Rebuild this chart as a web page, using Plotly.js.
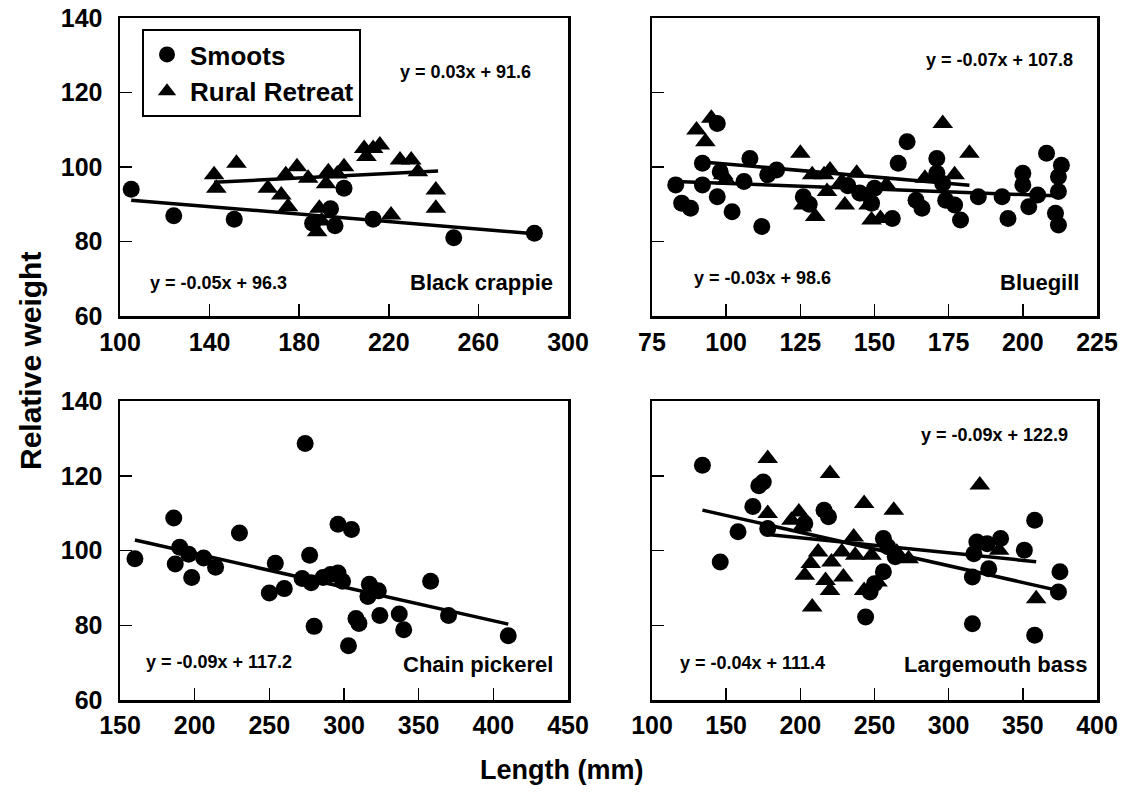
<!DOCTYPE html>
<html>
<head>
<meta charset="utf-8">
<script src="https://cdn.plot.ly/plotly-3.0.1.min.js"></script>
<style>html,body{margin:0;padding:0;background:#fff;}#chart{width:1125px;height:797px;}</style>
</head>
<body>
<div id="chart"></div>
<script>
// ---------- DATA ----------
const seriesNames = ['Smoots', 'Rural Retreat'];
const panelNames = ['Black crappie', 'Bluegill', 'Chain pickerel', 'Largemouth bass'];
const equationsSmoots = ['y = -0.05x + 96.3', 'y = -0.03x + 98.6', 'y = -0.09x + 117.2', 'y = -0.09x + 122.9'];
const equationsRural = ['y = 0.03x + 91.6', 'y = -0.07x + 107.8', '', 'y = -0.04x + 111.4'];

// Black crappie
const crappieSmootsLen = [105, 124, 151, 186, 194, 196, 200, 213, 249, 285];
const crappieSmootsWr  = [94.0, 86.9, 86.0, 84.9, 88.8, 84.2, 94.3, 86.0, 81.0, 82.2];
const crappieRuralLen = [142, 143, 152, 166, 172, 174, 175, 179, 184, 189, 188, 190, 193, 197, 192, 200, 209, 210, 213, 216, 225, 230, 233, 241, 241, 221];
const crappieRuralWr  = [97.9, 94.3, 101.0, 94.3, 92.5, 97.9, 89.3, 100.1, 97.0, 88.9, 82.6, 85.5, 98.7, 98.1, 95.5, 100.1, 105.0, 102.8, 105.0, 105.9, 101.9, 101.9, 98.7, 93.8, 88.9, 87.1];
const crappieSmootsFitLen = [105, 285];
const crappieSmootsFitWr  = [91.1, 82.1];
const crappieRuralFitLen = [142, 242];
const crappieRuralFitWr  = [95.9, 98.9];

// Bluegill
const bluegillSmootsLen = [97, 92, 108, 117, 114, 83, 92, 98, 106, 85, 88, 97, 102, 112, 126, 128, 141, 145, 161, 158, 171, 171, 173, 164, 166, 174, 177, 179, 156, 149, 150, 185, 193, 195, 200, 200, 202, 205, 208, 213, 212, 212, 211, 212];
const bluegillSmootsWr  = [111.7, 101.0, 102.3, 99.2, 97.9, 95.2, 95.2, 98.7, 96.1, 90.3, 88.9, 92.0, 88.0, 84.0, 92.0, 90.0, 95.0, 93.0, 106.8, 101.0, 102.3, 98.3, 95.6, 91.1, 88.9, 91.1, 89.8, 85.8, 86.2, 90.3, 94.3, 92.0, 92.0, 86.2, 98.3, 95.2, 89.3, 92.5, 103.7, 100.5, 97.4, 93.4, 87.6, 84.4];
const bluegillRuralLen = [95, 90, 93, 125, 99, 100, 129, 133, 135, 126, 130, 140, 144, 134, 139, 148, 149, 173, 182, 167, 177, 152, 148, 154];
const bluegillRuralWr  = [113.1, 109.9, 106.8, 103.7, 97.9, 96.5, 97.9, 97.9, 99.2, 89.8, 86.7, 89.8, 98.3, 93.4, 96.1, 89.8, 85.8, 111.7, 103.7, 97.0, 97.9, 86.2, 92.0, 95.2];
const bluegillSmootsFitLen = [83, 213];
const bluegillSmootsFitWr  = [96.1, 92.2];
const bluegillRuralFitLen = [90, 182];
const bluegillRuralFitWr  = [101.5, 95.1];

// Chain pickerel
const pickerelSmootsLen = [160, 186, 190, 196, 187, 198, 206, 214, 230, 254, 250, 260, 274, 277, 272, 278, 286, 291, 280, 296, 305, 296, 299, 317, 323, 316, 358, 308, 310, 324, 337, 340, 370, 410, 303];
const pickerelSmootsWr  = [97.8, 108.7, 100.9, 99.0, 96.4, 92.8, 98.0, 95.5, 104.7, 96.6, 88.6, 89.8, 128.6, 98.7, 92.5, 91.4, 92.8, 93.6, 79.7, 107.0, 105.6, 94.0, 91.8, 91.0, 89.2, 87.7, 91.8, 81.8, 80.5, 82.6, 83.0, 78.8, 82.6, 77.2, 74.5];
const pickerelSmootsFitLen = [160, 410];
const pickerelSmootsFitWr  = [102.8, 80.3];

// Largemouth bass
const bassSmootsLen = [134, 146, 158, 168, 172, 175, 178, 216, 219, 203, 244, 256, 259, 256, 250, 247, 264, 319, 317, 326, 335, 327, 316, 351, 358, 375, 374, 316, 358];
const bassSmootsWr  = [122.8, 96.9, 105.0, 111.8, 117.3, 118.3, 105.9, 110.8, 109.0, 107.2, 82.2, 103.2, 101.0, 94.3, 91.1, 88.9, 98.3, 102.3, 99.1, 101.8, 103.2, 95.1, 92.9, 100.1, 108.1, 94.3, 88.9, 80.4, 77.3];
const bassRuralLen = [178, 178, 220, 243, 199, 194, 201, 236, 212, 207, 228, 237, 248, 203, 217, 221, 229, 220, 208, 243, 263, 321, 273, 359, 265, 252, 334];
const bassRuralWr  = [124.6, 109.9, 120.6, 112.6, 110.3, 108.1, 106.3, 103.6, 99.6, 96.5, 99.6, 98.7, 98.7, 93.4, 92.0, 96.9, 92.9, 89.3, 84.9, 89.3, 110.8, 117.5, 97.8, 87.1, 99.5, 91.6, 100.1];
const bassSmootsFitLen = [134, 375];
const bassSmootsFitWr  = [110.8, 89.2];
const bassRuralFitLen = [178, 359];
const bassRuralFitWr  = [104.3, 97.0];

const xRanges = [[100, 300], [75, 225], [150, 450], [100, 400]];
const xDticks = [40, 25, 50, 50];
const yRange = [60, 140];

// ---------- LAYOUT ----------
const W = 1125, H = 797;
const px = v => v / W;
const py = v => 1 - v / H;
const FONT = 'Liberation Sans, Arial, Helvetica, sans-serif';

const circle = {symbol: 'circle', size: 17, color: '#000'};
const tri = {symbol: 'triangle-up', size: 18, color: '#000'};
const fitLine = {color: '#000', width: 3.5};

function pts(x, y, xa, ya, marker, name, legend, grp) {
  return {type: 'scatter', mode: 'markers', x: x, y: y, xaxis: xa, yaxis: ya, marker: marker,
          name: name, showlegend: legend, legendgroup: grp, hoverinfo: 'skip'};
}
function fit(x, y, xa, ya) {
  return {type: 'scatter', mode: 'lines', x: x, y: y, xaxis: xa, yaxis: ya, line: fitLine,
          showlegend: false, hoverinfo: 'skip'};
}

const data = [
  pts(crappieSmootsLen, crappieSmootsWr, 'x', 'y', circle, seriesNames[0], true, 'a'),
  pts(crappieRuralLen, crappieRuralWr, 'x', 'y', tri, seriesNames[1], true, 'b'),
  fit(crappieSmootsFitLen, crappieSmootsFitWr, 'x', 'y'),
  fit(crappieRuralFitLen, crappieRuralFitWr, 'x', 'y'),
  pts(bluegillSmootsLen, bluegillSmootsWr, 'x2', 'y2', circle, seriesNames[0], false, 'a'),
  pts(bluegillRuralLen, bluegillRuralWr, 'x2', 'y2', tri, seriesNames[1], false, 'b'),
  fit(bluegillSmootsFitLen, bluegillSmootsFitWr, 'x2', 'y2'),
  fit(bluegillRuralFitLen, bluegillRuralFitWr, 'x2', 'y2'),
  pts(pickerelSmootsLen, pickerelSmootsWr, 'x3', 'y3', circle, seriesNames[0], false, 'a'),
  fit(pickerelSmootsFitLen, pickerelSmootsFitWr, 'x3', 'y3'),
  pts(bassSmootsLen, bassSmootsWr, 'x4', 'y4', circle, seriesNames[0], false, 'a'),
  pts(bassRuralLen, bassRuralWr, 'x4', 'y4', tri, seriesNames[1], false, 'b'),
  fit(bassSmootsFitLen, bassSmootsFitWr, 'x4', 'y4'),
  fit(bassRuralFitLen, bassRuralFitWr, 'x4', 'y4')
];

const tickFont = {family: FONT, size: 25, color: '#000', weight: 'bold'};
function ax(extra) {
  return Object.assign({
    showline: true, linecolor: '#000', linewidth: 2.5, mirror: true,
    ticks: 'inside', ticklen: 12, tickwidth: 1.5, tickcolor: '#000',
    showgrid: false, zeroline: false, tickfont: tickFont, ticklabelstandoff: 10,
    fixedrange: true
  }, extra);
}

const L = [px(120), px(568)], R = [px(652), px(1097)];
const T = [py(316), py(18)], B = [py(700), py(401)];

const layout = {
  width: W, height: H,
  margin: {l: 0, r: 0, t: 0, b: 0},
  paper_bgcolor: '#fff', plot_bgcolor: '#fff',
  font: {family: FONT, color: '#000'},
  showlegend: true,
  legend: {x: px(142), y: py(29), xanchor: 'left', yanchor: 'top',
           bordercolor: '#000', borderwidth: 2, bgcolor: '#fff',
           font: {family: FONT, size: 26, color: '#000', weight: 'bold'},
           tracegroupgap: 0, itemsizing: 'trace', itemwidth: 36},
  xaxis:  ax({domain: L, anchor: 'y',  range: xRanges[0], tick0: xRanges[0][0], dtick: xDticks[0], ticklabelstandoff: 2}),
  yaxis:  ax({domain: T, anchor: 'x',  range: yRange, dtick: 20}),
  xaxis2: ax({domain: R, anchor: 'y2', range: xRanges[1], tick0: xRanges[1][0], dtick: xDticks[1], ticklabelstandoff: 2}),
  yaxis2: ax({domain: T, anchor: 'x2', range: yRange, dtick: 20, showticklabels: false}),
  xaxis3: ax({domain: L, anchor: 'y3', range: xRanges[2], tick0: xRanges[2][0], dtick: xDticks[2], ticklabelstandoff: 1}),
  yaxis3: ax({domain: B, anchor: 'x3', range: yRange, dtick: 20}),
  xaxis4: ax({domain: R, anchor: 'y4', range: xRanges[3], tick0: xRanges[3][0], dtick: xDticks[3], ticklabelstandoff: 1}),
  yaxis4: ax({domain: B, anchor: 'x4', range: yRange, dtick: 20, showticklabels: false}),
  annotations: []
};

function note(text, x, y, size, extra) {
  layout.annotations.push(Object.assign({
    text: text, x: px(x), y: py(y), xref: 'paper', yref: 'paper',
    xanchor: 'center', yanchor: 'middle', showarrow: false,
    font: {family: FONT, size: size, color: '#000', weight: 'bold'}
  }, extra || {}));
}
// panel labels
note(panelNames[0], 481, 282, 22);
note(panelNames[1], 1039, 282, 22);
note(panelNames[2], 478, 664, 22);
note(panelNames[3], 995, 664, 22);
// equations
note(equationsRural[0], 465, 72, 18);
note(equationsSmoots[0], 218, 283, 18);
note(equationsRural[1], 999, 60, 18);
note(equationsSmoots[1], 763, 278, 18);
note(equationsSmoots[2], 219, 662, 18);
note(equationsSmoots[3], 994, 435, 18);
note(equationsRural[3], 752, 663, 18);
// axis titles
note('Relative weight', 30, 361, 30, {textangle: -90});
note('Length (mm)', 561, 770, 27);

Plotly.newPlot('chart', data, layout, {displayModeBar: false, staticPlot: true});
</script>
</body>
</html>
